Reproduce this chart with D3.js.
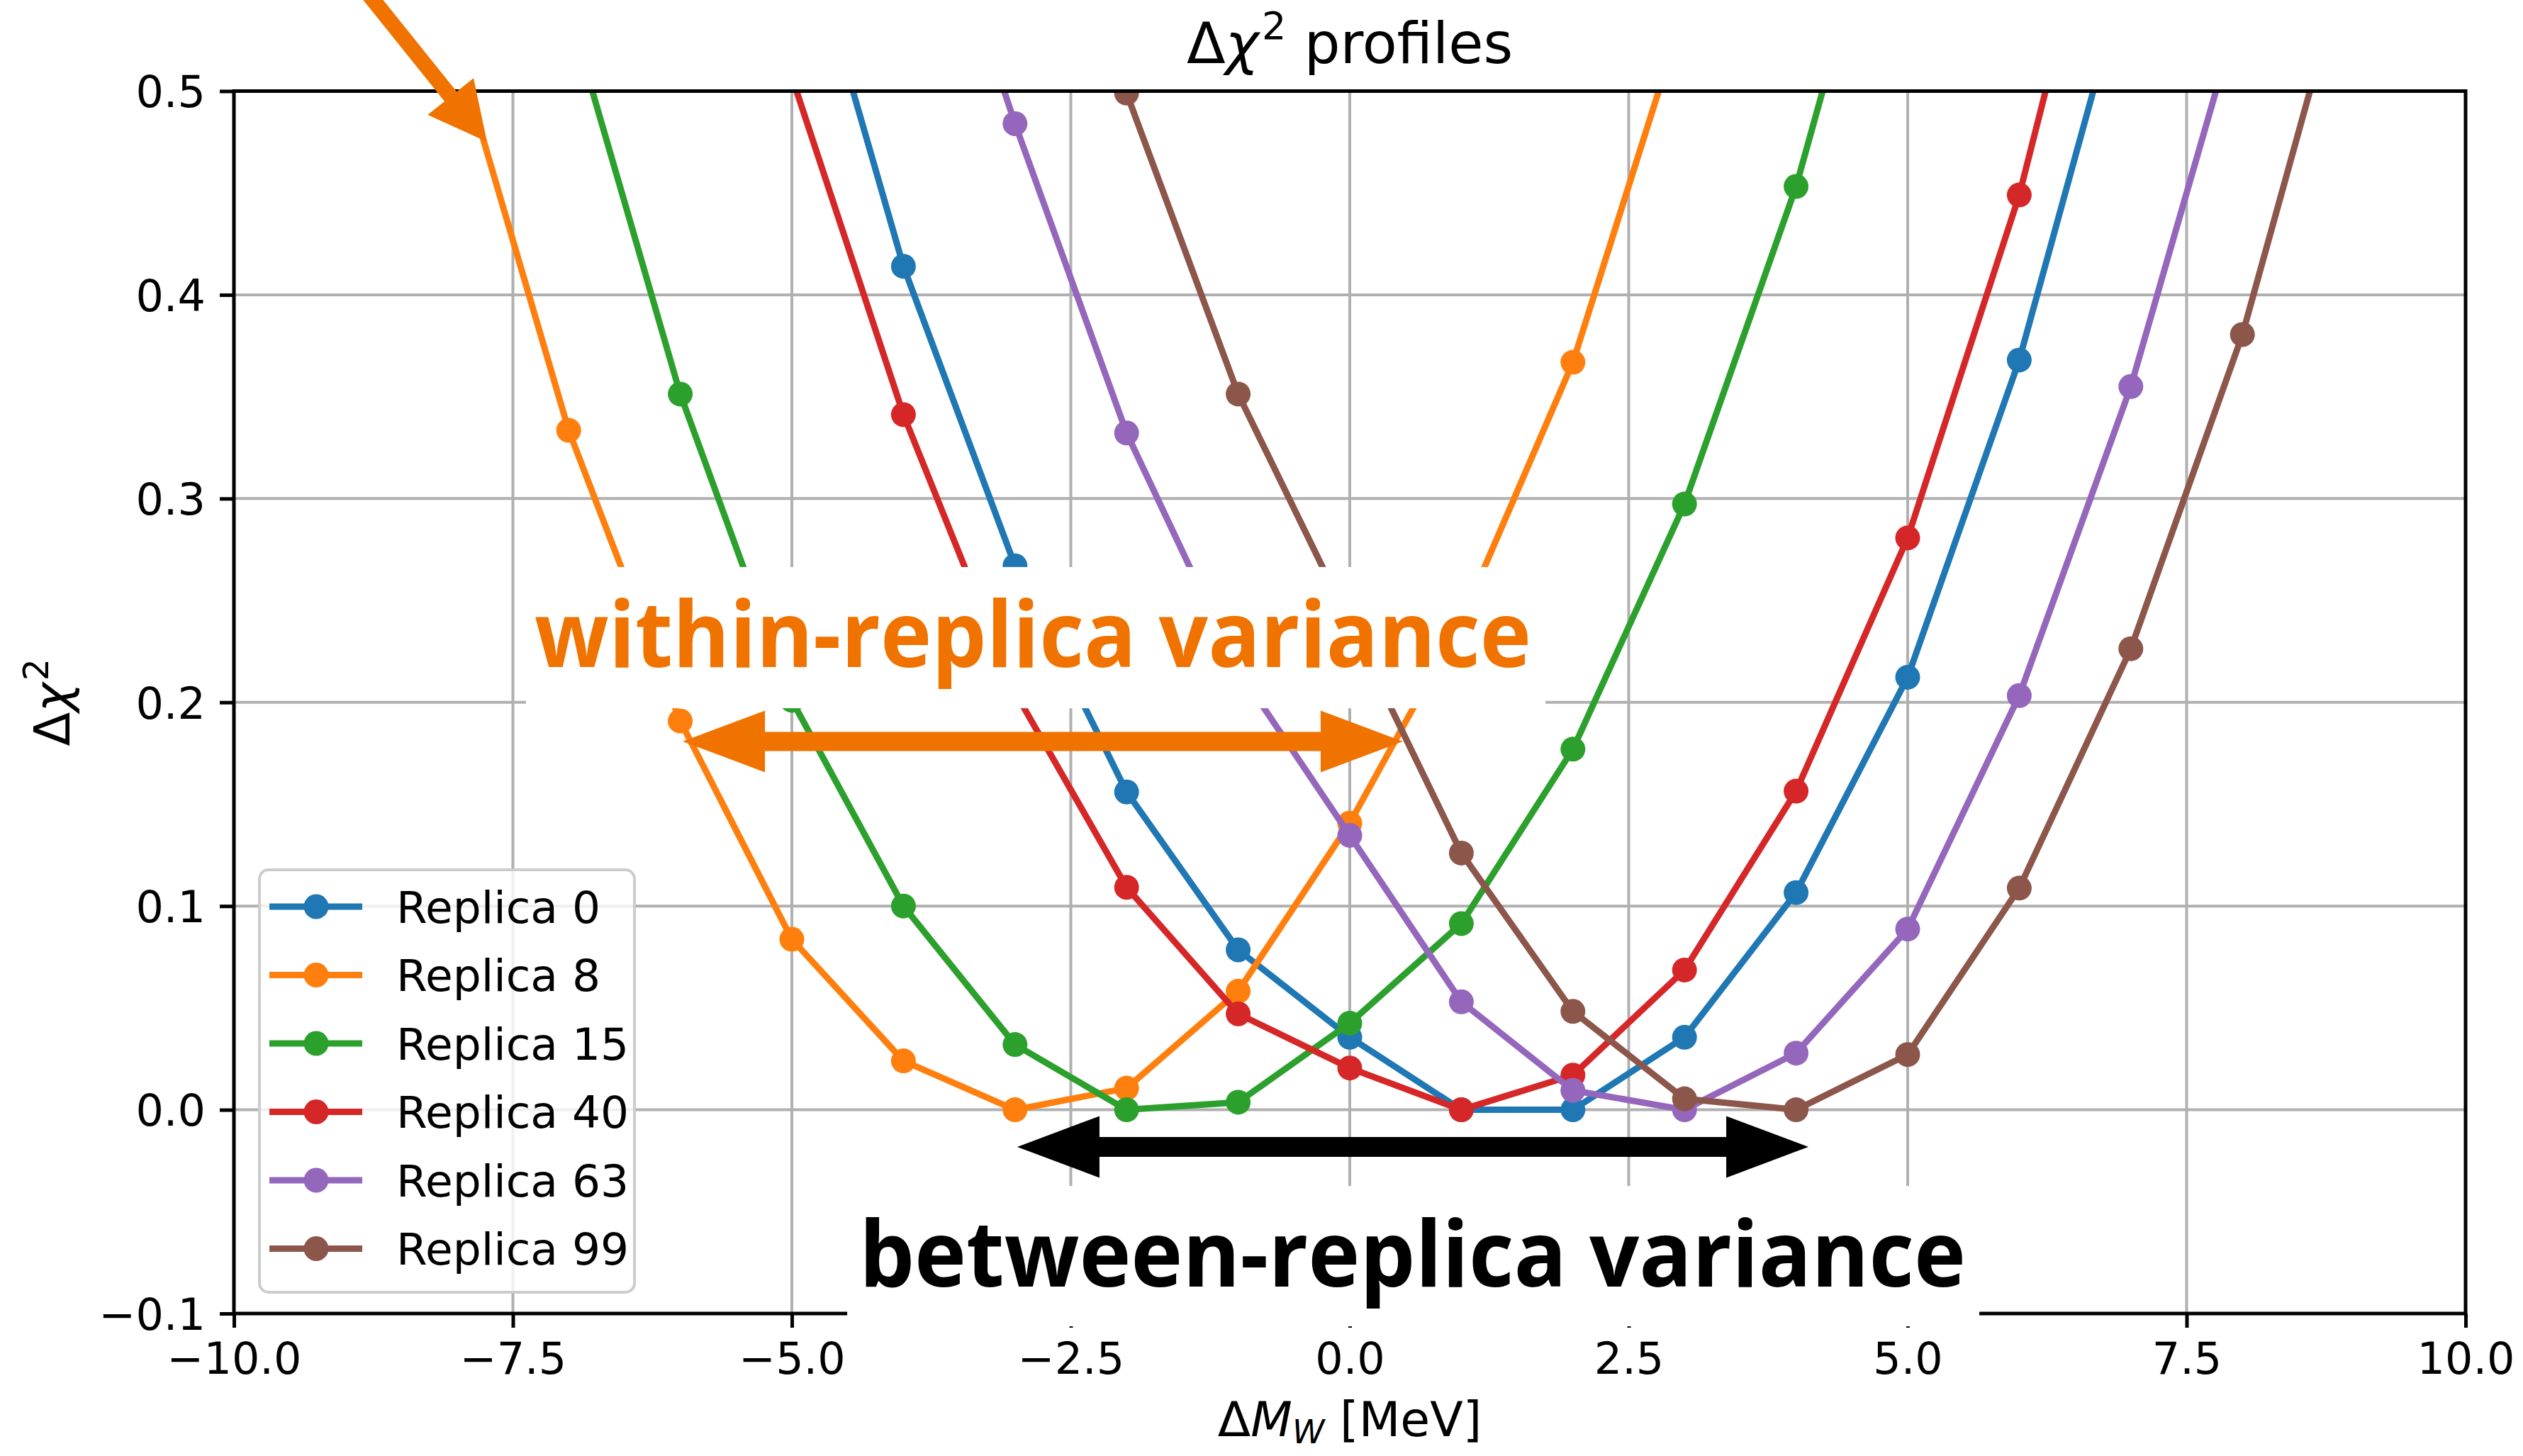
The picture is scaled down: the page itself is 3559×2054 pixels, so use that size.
<!DOCTYPE html>
<html><head><meta charset="utf-8">
<script src="https://cdn.jsdelivr.net/npm/d3@7/dist/d3.min.js"></script>
<style>html,body{margin:0;padding:0;background:#fff;} svg{display:block}</style>
</head><body>
<svg id="chart" width="3559" height="2054"></svg>
<script>
// ---------------- data ----------------
const massShifts = [-8,-7,-6,-5,-4,-3,-2,-1,0,1,2,3,4,5,6,7,8,9];
const seriesNames = ["Replica 0","Replica 8","Replica 15","Replica 40","Replica 63","Replica 99"];
const replica0  = [null,null,null,0.604,0.414,0.267,0.156,0.0785,0.0356,0,0,0.0356,0.1066,0.2123,0.368,0.567,null,null];
const replica8  = [0.52,0.3335,0.1908,0.0837,0.024,0,0.0106,0.0582,0.1407,0.240,0.3669,0.54,null,null,null,null,null,null];
const replica15 = [null,0.54,0.3513,0.201,0.100,0.032,0,0.0037,0.0425,0.0914,0.177,0.2973,0.4532,0.65,null,null,null,null];
const replica40 = [null,null,null,0.507,0.3412,0.205,0.1092,0.0471,0.0205,0,0.017,0.0686,0.1564,0.2807,0.449,0.665,null,null];
const replica63 = [null,null,null,null,0.649,0.484,0.3322,0.216,0.1347,0.053,0.0095,0,0.0278,0.0887,0.2033,0.355,0.545,null];
const replica99 = [null,null,null,null,null,0.65,0.499,0.3513,0.239,0.126,0.0483,0.0054,0,0.0271,0.1088,0.2263,0.3805,0.578];
const seriesValues = [replica0, replica8, replica15, replica40, replica63, replica99];
const seriesColors = ["#1f77b4","#ff7f0e","#2ca02c","#d62728","#9467bd","#8c564b"];
const xTicks = [-10,-7.5,-5,-2.5,0,2.5,5,7.5,10];
const xTickLabels = ["\u221210.0","\u22127.5","\u22125.0","\u22122.5","0.0","2.5","5.0","7.5","10.0"];
const yTicks = [-0.1,0,0.1,0.2,0.3,0.4,0.5];
const yTickLabels = ["\u22120.1","0.0","0.1","0.2","0.3","0.4","0.5"];
const withinLabel = "within-replica variance";
const betweenLabel = "between-replica variance";

// ---------------- layout ----------------
const W = 3559, H = 2054;
const plot = {left:330, right:3478, top:128.5, bottom:1853};
const FONT = "'DejaVu Sans', sans-serif";
const ANNOT_FONT = "'Open Sans', 'Noto Sans', sans-serif";
const ORANGE = "#f07300";

const x = d3.scaleLinear().domain([-10,10]).range([plot.left, plot.right]);
const y = d3.scaleLinear().domain([-0.1,0.5]).range([plot.bottom, plot.top]);

const svg = d3.select("#chart");
svg.append("rect").attr("width",W).attr("height",H).attr("fill","#fff");
svg.append("defs").append("clipPath").attr("id","clip")
  .append("rect").attr("x",plot.left).attr("y",plot.top)
  .attr("width",plot.right-plot.left).attr("height",plot.bottom-plot.top);

// grid
const grid = svg.append("g");
grid.selectAll("line.gx").data(xTicks).join("line").attr("class","gx")
  .attr("x1",d=>x(d)).attr("x2",d=>x(d)).attr("y1",plot.top).attr("y2",plot.bottom)
  .attr("stroke","#b0b0b0").attr("stroke-width",4);
grid.selectAll("line.gy").data(yTicks).join("line").attr("class","gy")
  .attr("y1",d=>y(d)).attr("y2",d=>y(d)).attr("x1",plot.left).attr("x2",plot.right)
  .attr("stroke","#b0b0b0").attr("stroke-width",4);

// series
const line = d3.line().defined(d=>d.v!=null).x(d=>x(d.x)).y(d=>y(d.v));
const gS = svg.append("g").attr("clip-path","url(#clip)");
seriesNames.forEach((name,i)=>{
  const pts = massShifts.map((m,j)=>({x:m, v:seriesValues[i][j]}));
  const g = gS.append("g");
  g.append("path").datum(pts).attr("d",line).attr("fill","none")
    .attr("stroke",seriesColors[i]).attr("stroke-width",9)
    .attr("stroke-linejoin","round").attr("stroke-linecap","square");
  g.selectAll("circle").data(pts.filter(p=>p.v!=null)).join("circle")
    .attr("cx",d=>x(d.x)).attr("cy",d=>y(d.v)).attr("r",17.5).attr("fill",seriesColors[i]);
});

// axes
const xAxis = svg.append("g").attr("transform",`translate(0,${plot.bottom})`)
  .call(d3.axisBottom(x).tickValues(xTicks).tickFormat((d,i)=>xTickLabels[i]).tickSize(20).tickSizeOuter(0));
xAxis.select(".domain").remove();
xAxis.selectAll(".tick line").attr("stroke","#000").attr("stroke-width",5);
xAxis.selectAll(".tick text").attr("y",85).attr("dy",null).attr("fill","#000")
  .style("font-family",FONT).style("font-size","62px");

const yAxis = svg.append("g").attr("transform",`translate(${plot.left},0)`)
  .call(d3.axisLeft(y).tickValues(yTicks).tickFormat((d,i)=>yTickLabels[i]).tickSize(20).tickSizeOuter(0));
yAxis.select(".domain").remove();
yAxis.selectAll(".tick line").attr("stroke","#000").attr("stroke-width",5);
yAxis.selectAll(".tick text").attr("x",-40).attr("dy","0.36em").attr("fill","#000")
  .style("font-family",FONT).style("font-size","62px");

// spines
svg.append("rect").attr("x",plot.left).attr("y",plot.top)
  .attr("width",plot.right-plot.left).attr("height",plot.bottom-plot.top)
  .attr("fill","none").attr("stroke","#000").attr("stroke-width",5);

// title
const title = svg.append("text").attr("x",(plot.left+plot.right)/2).attr("y",89)
  .attr("text-anchor","middle").style("font-family",FONT).style("font-size","80px").attr("fill","#000");
title.append("tspan").text("\u0394");
title.append("tspan").style("font-style","italic").text("\u03c7");
title.append("tspan").attr("dx",4).attr("dy",-34).style("font-size","54px").text("2");
title.append("tspan").attr("dy",34).text(" profiles");

// x label
const xl = svg.append("text").attr("x",(plot.left+plot.right)/2).attr("y",2026)
  .attr("text-anchor","middle").style("font-family",FONT).style("font-size","68px").attr("fill","#000");
xl.append("tspan").text("\u0394");
xl.append("tspan").style("font-style","italic").text("M");
xl.append("tspan").attr("dy",10).style("font-style","italic").style("font-size","46px").text("W");
xl.append("tspan").attr("dy",-10).text(" [MeV]");

// y label
const yl = svg.append("text").attr("transform",`translate(98,${(plot.top+plot.bottom)/2}) rotate(-90)`)
  .attr("text-anchor","middle").style("font-family",FONT).style("font-size","70px").attr("fill","#000");
yl.append("tspan").text("\u0394");
yl.append("tspan").style("font-style","italic").text("\u03c7");
yl.append("tspan").attr("dx",3).attr("dy",-30).style("font-size","49px").text("2");

// legend
const lg = svg.append("g");
lg.append("rect").attr("x",366).attr("y",1227).attr("width",529).attr("height",596).attr("rx",13)
  .attr("fill","#fff").attr("fill-opacity",0.8).attr("stroke","#cccccc").attr("stroke-width",4);
seriesNames.forEach((name,i)=>{
  const cy = 1279 + i*96.5;
  lg.append("line").attr("x1",380).attr("x2",511).attr("y1",cy).attr("y2",cy)
    .attr("stroke",seriesColors[i]).attr("stroke-width",9);
  lg.append("circle").attr("cx",446).attr("cy",cy).attr("r",17.5).attr("fill",seriesColors[i]);
  lg.append("text").attr("x",559).attr("y",cy).attr("dy","0.36em").text(name)
    .style("font-family",FONT).style("font-size","63px").attr("fill","#000");
});

// ---------------- annotations (positions in data units) ----------------
const withinBox  = {x0:-7.382, x1:1.754, y0:0.1971, y1:0.2664};
const withinText = {x0:-7.306, x1:1.627, y:0.2173};
const withinArrow = {x0:-5.978, x1:0.476, y:0.1808};
const betweenBox  = {x0:-4.504, x1:5.642, y0:-0.1063, y1:-0.0374};
const betweenText = {x0:-4.397, x1:5.521, y:-0.0868};
const betweenArrow = {x0:-2.98, x1:4.111, y:-0.0182};
const pointerTip = {x:-7.732, y:0.4751};

function dblArrow(x1,x2,yc,hl,hh,sh){
  return [[x1,yc],[x1+hl,yc-hh],[x1+hl,yc-sh],[x2-hl,yc-sh],[x2-hl,yc-hh],[x2,yc],
          [x2-hl,yc+hh],[x2-hl,yc+sh],[x1+hl,yc+sh],[x1+hl,yc+hh]];
}
const ann = svg.append("g");
function box(b){
  ann.append("rect").attr("x",x(b.x0)).attr("y",y(b.y1))
    .attr("width",x(b.x1)-x(b.x0)).attr("height",y(b.y0)-y(b.y1)).attr("fill","#fff");
}
function label(t,str,color){
  ann.append("text").attr("x",x(t.x0)).attr("y",y(t.y))
    .attr("textLength",x(t.x1)-x(t.x0)).attr("lengthAdjust","spacingAndGlyphs")
    .style("font-family",ANNOT_FONT).style("font-weight","700").style("font-size","130px")
    .attr("fill",color).text(str);
}
box(withinBox);
label(withinText, withinLabel, ORANGE);
ann.append("polygon").attr("points",dblArrow(x(withinArrow.x0),x(withinArrow.x1),y(withinArrow.y),116,43.5,13.5).join(" "))
  .attr("fill",ORANGE);
box(betweenBox);
label(betweenText, betweenLabel, "#000");
ann.append("polygon").attr("points",dblArrow(x(betweenArrow.x0),x(betweenArrow.x1),y(betweenArrow.y),116,43.5,14).join(" "))
  .attr("fill","#000");

// pointer arrow from top-left corner
(function(){
  const T=[x(pointerTip.x), y(pointerTip.y)];
  const u=[0.626,0.78], p=[-0.78,0.626];
  const B=[T[0]-82*u[0], T[1]-82*u[1]];
  const S=[T[0]-420*u[0], T[1]-420*u[1]];
  const pt=(P,k)=>[P[0]+k*p[0], P[1]+k*p[1]];
  const pts=[pt(S,-11),pt(B,-11),pt(B,-41.5),T,pt(B,41.5),pt(B,11),pt(S,11)];
  ann.append("polygon").attr("points",pts.join(" ")).attr("fill",ORANGE);
})();
</script>
</body></html>
